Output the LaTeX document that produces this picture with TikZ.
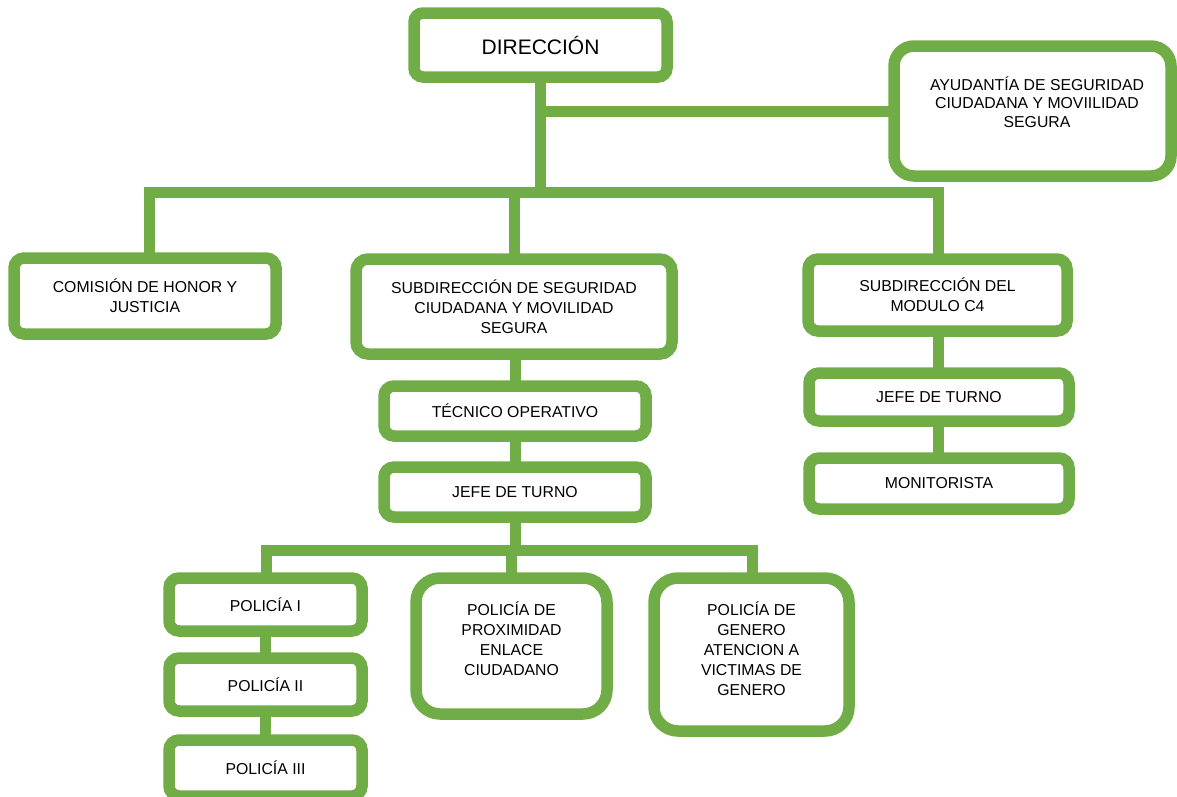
\documentclass[tikz,border=0pt]{standalone}
\usepackage{fontspec}
\setmainfont{Liberation Sans}
\definecolor{grn}{RGB}{112,173,71}
\begin{document}
\begin{tikzpicture}[x=1pt,y=-1pt,
  txt/.style={align=center, font=\fontsize{15.8}{20}\selectfont, inner sep=0pt},
  box/.style={txt, draw=grn, line width=11.5pt, fill=white, rounded corners=10pt, outer sep=0pt},
  conn/.style={draw=grn, line width=11pt, line join=miter}]
\useasboundingbox[fill=white] (0,0) rectangle (1177,796);

\node[box, minimum width=253pt, minimum height=64pt, rounded corners=9pt, font=\fontsize{21}{24}\selectfont] (dir) at (540.5,45) {DIRECCIÓN};
\node[box, minimum width=277pt, minimum height=130pt, rounded corners=20pt,
  label={[txt, font=\fontsize{15.8}{18.5}\selectfont, xshift=4.5pt, yshift=9pt]center:AYUDANTÍA DE SEGURIDAD\\CIUDADANA Y MOVIILIDAD\\SEGURA}] (ay) at (1032.5,111) {};
\node[box, minimum width=262pt, minimum height=76pt] (com) at (145,296) {COMISIÓN DE HONOR Y\\JUSTICIA};
\node[box, minimum width=316pt, minimum height=95pt, rounded corners=12pt] (sub) at (514,306.5) {SUBDIRECCIÓN DE SEGURIDAD\\CIUDADANA Y MOVILIDAD\\SEGURA};
\node[box, minimum width=259pt, minimum height=72pt] (c4) at (937.5,295) {SUBDIRECCIÓN DEL\\MODULO C4};
\node[box, minimum width=262pt, minimum height=50pt] (tec) at (515,411) {TÉCNICO OPERATIVO};
\node[box, minimum width=262pt, minimum height=50pt] (jefe) at (515,492) {JEFE DE TURNO};
\node[box, minimum width=260pt, minimum height=48pt] (jr) at (939,397) {JEFE DE TURNO};
\node[box, minimum width=260pt, minimum height=51pt] (mon) at (939,483.5) {MONITORISTA};
\node[box, minimum width=193pt, minimum height=53pt] (p1) at (265.5,604.5) {POLICÍA I};
\node[box, minimum width=193pt, minimum height=53pt] (p2) at (265.5,684.5) {POLICÍA II};
\node[box, minimum width=193pt, minimum height=56pt] (p3) at (265.5,768) {POLICÍA III};
\node[box, minimum width=191pt, minimum height=136pt, rounded corners=24pt,
  label={[txt, yshift=7pt]center:POLICÍA DE\\PROXIMIDAD\\ENLACE\\CIUDADANO}] (prox) at (511.5,646) {};
\node[box, minimum width=195pt, minimum height=153pt, rounded corners=24pt,
  label={[txt, yshift=5.5pt]center:POLICÍA DE\\GENERO\\ATENCION A\\VICTIMAS DE\\GENERO}] (gen) at (751.5,654.5) {};

\coordinate (hl) at (149,192);
\coordinate (hr) at (938,192);
\coordinate (bl) at (266,550);
\coordinate (br) at (752,550);

\draw[conn] (com.north -| hl) -- (hl) -- (hr) -- (c4.north -| hr);
\draw[conn] (dir.south) -- (dir.south |- hl);
\draw[conn] (dir.south |- ay.west) -- (ay.west);
\draw[conn] (sub.north) -- (sub.north |- hl);
\draw[conn] (tec.north |- sub.south) -- (tec.north);
\draw[conn] (tec.south) -- (jefe.north);
\draw[conn] (jefe.south) -- (jefe.south |- bl);
\draw[conn] (p1.north -| bl) -- (bl) -- (br) -- (gen.north -| br);
\draw[conn] (prox.north) -- (prox.north |- bl);
\draw[conn] (p1.south) -- (p2.north);
\draw[conn] (p2.south) -- (p3.north);
\draw[conn] (c4.south -| hr) -- (jr.north -| hr);
\draw[conn] (jr.south -| hr) -- (mon.north -| hr);
\end{tikzpicture}
\end{document}
